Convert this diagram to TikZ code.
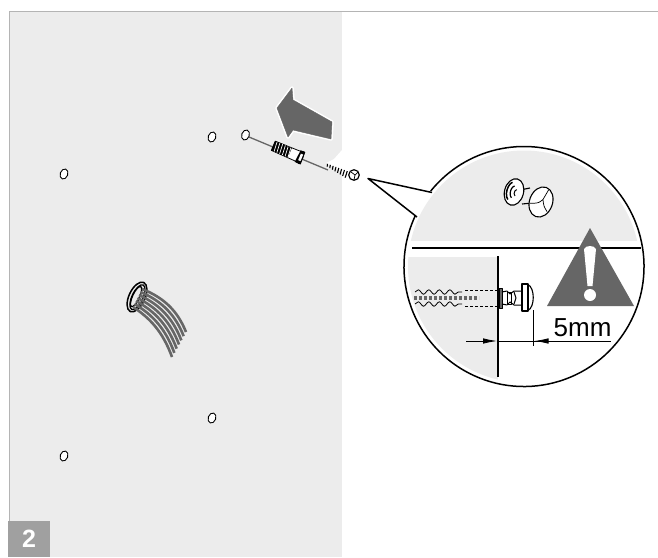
\documentclass[tikz,border=0pt]{standalone}
\usepackage{fontspec}
\setmainfont{Liberation Sans}
\usetikzlibrary{arrows.meta,decorations.pathmorphing}
\definecolor{panel}{HTML}{ECECEC}
\definecolor{darkgrey}{HTML}{666666}
\definecolor{badge}{HTML}{A0A0A0}
\definecolor{rule}{HTML}{B4B4B4}
\tikzset{
  hole/.style={draw=black,fill=white,line width=0.9pt},
  ink/.style={draw=black,line width=1pt},
  dim/.style={draw=black,line width=0.8pt},
  dimtip/.style={-{Latex[length=14pt,width=5.5pt]}},
}
\begin{document}
\begin{tikzpicture}[x=1pt,y=-1pt,line join=round]
\useasboundingbox (0,0) rectangle (658,557);
\fill[white] (0,0) rectangle (658,557);
% panel and frame
\fill[panel] (9,12) rectangle (342,557);
\draw[rule,line width=1pt] (658,11.5) -- (9,11.5) -- (9,521);
% badge
\node[fill=badge,minimum width=42pt,minimum height=36pt,inner sep=0pt,anchor=north west,text=white,font=\bfseries\fontsize{25}{25}\selectfont] (badge) at (8,521) {2};
% holes
\foreach \n/\x/\y in {a/212/137,b/245.5/135,c/64/174,d/212/418,e/64/456}
  \draw[hole,shift={(\x,\y)},rotate=-20] (0,0) ellipse [x radius=3.8pt,y radius=5.2pt];
% big arrow
\draw[darkgrey,fill=darkgrey,preaction={draw=white,line width=3.5pt}] (277,108) -- (292,88) -- (293,100) -- (332,122) -- (331,139) -- (293,130) -- (288,137) -- cycle;
% white halo near the screw
\fill[white] (342,150) -- (334,159) -- (326,163) -- (342,172) -- cycle;
% screw axis
\draw[draw=darkgrey,line width=1.3pt] (249,137) -- (328,170);
% anchor
\begin{scope}[shift={(288,152)},rotate=-23]
  \fill[white,draw=black,line width=0.8pt] (-16,-5) -- (10,-5.5) -- (15,-6.5) -- (16,0) -- (15,6.5) -- (10,5.5) -- (-16,5) -- cycle;
  \fill[black] (-16,-5) rectangle (2,5);
  \foreach \k in {-14,-11,...,1} \draw[white,line width=0.7pt] (\k,-5) -- (\k+1,5);
  \fill[black] (11,-6.5) -- (16,-6.5) -- (16.5,6.5) -- (10,6.5) -- cycle;
  \fill[white] (12.5,-3.5) rectangle (15,3.5);
\end{scope}
% screw
\begin{scope}[shift={(326,164.5)},rotate=-26]
  \foreach \k in {1,4,...,24} \draw[black,line width=1.1pt] (\k,{-1.2-\k*0.1}) -- (\k+1,{1.2+\k*0.1});
\end{scope}
\draw[ink,fill=white,line width=1.2pt] (354,175) circle (5.3pt);
\draw[black,line width=0.7pt] (351,172) -- (355,175) -- (358,172) (355,175) -- (354,180);
% cable
\begin{scope}[shift={(137,297)},rotate=-25]
  \draw[black,line width=1.5pt] (0,0) ellipse [x radius=8pt,y radius=16pt];
  \draw[black,line width=1.3pt] (0.5,0) ellipse [x radius=5.5pt,y radius=13.5pt];
  \draw[black,line width=1.3pt] (-1,0) ellipse [x radius=3.5pt,y radius=11pt];
\end{scope}
\foreach \t in {0,0.1667,0.3333,0.5,0.6667,0.8333,1}{
  \draw[darkgrey,line width=2.6pt]
    ({142-9*\t},{289+18*\t}) .. controls ({165-15*\t},{298+20*\t}) and ({178-15*\t},{312+20*\t}) .. ({186-14*\t},{332+25*\t});
}
% magnifier interior
\begin{scope}
  \clip (524,266.5) circle (116pt);
  \fill[panel] (400,140) rectangle (650,241);
  \fill[panel] (400,257) rectangle (498,395);
\end{scope}
% magnifier outline with gap, callout
\coordinate (tip) at (368,178.5);
\coordinate (gapa) at (417,217);
\coordinate (gapb) at (432,192.5);
\draw[ink,line width=1.5pt] (524,266.5) ++(155:120pt) arc [start angle=155,delta angle=346,radius=120pt];
\draw[ink,line width=1.5pt] (gapa) -- (tip) -- (gapb);
% horizontal line
\draw[black,line width=1.1pt] (412,248) -- (641,248);
% magnified fixing, front view
\draw[black,line width=1.1pt] (520,190) -- (530,188) (522,204) -- (532,203);
\begin{scope}[shift={(514,192)},rotate=-15]
  \draw[black,fill=white,line width=1.1pt] (0,0) ellipse [x radius=9.5pt,y radius=13.5pt];
  \draw[black,line width=1.5pt] (-4,-9) arc [start angle=110,end angle=250,x radius=5pt,y radius=9.5pt];
  \draw[black,line width=1.2pt] (-1,-6) arc [start angle=110,end angle=250,x radius=4pt,y radius=6.5pt];
  \draw[black,line width=1pt] (2,-3) arc [start angle=110,end angle=250,x radius=2.5pt,y radius=3.5pt];
\end{scope}
\begin{scope}[shift={(541,202)},rotate=-20]
  \draw[black,fill=white,line width=1.1pt] (0,0) ellipse [x radius=11.5pt,y radius=15.5pt];
  \draw[black,line width=0.7pt] (3,-14) -- (1,-3) (1,-3) .. controls (-2,2) .. (-10,5) (1,-3) .. controls (4,3) .. (9,7);
\end{scope}
% triangle with exclamation mark
\fill[darkgrey] (590,228) -- (634,306) -- (547,306) -- cycle;
\fill[white] (584,249) .. controls (586,245) and (594,245) .. (596,249) -- (592.5,286) -- (587.5,286) -- cycle;
\fill[white] (590,295) circle (6pt);
% section view
\draw[black,line width=1.1pt] (498,256) -- (498,377);
\draw[black,fill=darkgrey,line width=0.8pt] (499,288) rectangle (502,308);
\draw[black,line width=0.8pt,dash pattern=on 3pt off 2pt] (498,290) -- (465,290) (498,306) -- (465,306);
\draw[black,line width=0.8pt,decorate,decoration={snake,amplitude=2.2pt,segment length=10.5pt}] (415,292) -- (462,292);
\draw[black,line width=0.8pt,decorate,decoration={snake,amplitude=2.2pt,segment length=10.5pt}] (415,304) -- (462,304);
\draw[darkgrey,line width=3.6pt,dash pattern=on 3pt off 2pt] (414,298) -- (479,298);
\draw[black,line width=1pt] (502,292) -- (507,291) -- (510,294) -- (514,291) -- (522,291);
\draw[black,line width=1pt] (502,304) -- (507,305) -- (510,302) -- (514,305) -- (522,305);
\draw[black,line width=1pt] (507,292) rectangle (511,304);
\draw[black,line width=1pt] (514,292) -- (516,298) -- (514,304);
\draw[black,fill=white,line width=1.1pt] (522,284) rectangle (528,311);
\draw[black,line width=1.1pt] (528,284.5) .. controls (535,288) and (535,307) .. (528,310.5);
% dimension
\node[font=\fontsize{26}{26}\selectfont,inner sep=0pt,anchor=base west] (dimtext) at (553.5,336) {5mm};
\draw[dim] (533.5,310) -- (533.5,346);
\draw[dim] (498,341) -- (611,341);
\coordinate (leftstart) at (466,341);
\coordinate (leftend) at (497,341);
\coordinate (rightstart) at (560,341);
\coordinate (rightend) at (534.5,341);
\draw[dim,dimtip] (leftstart) -- (leftend);
\draw[dim,dimtip] (rightstart) -- (rightend);
\end{tikzpicture}
\end{document}
